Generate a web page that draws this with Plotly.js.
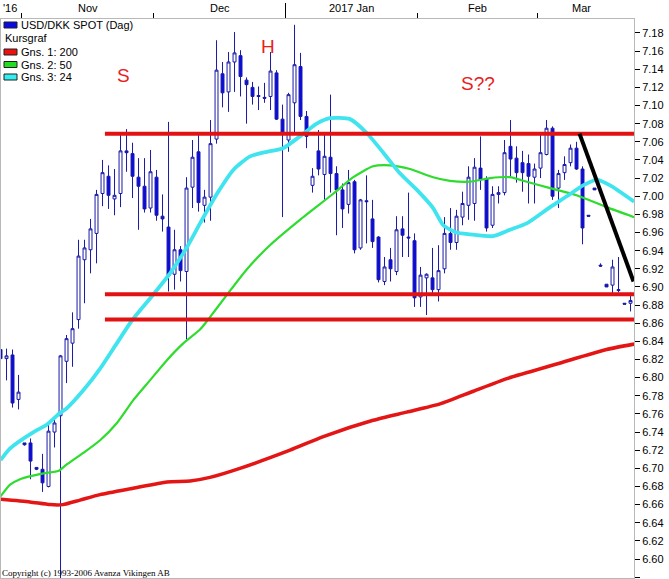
<!DOCTYPE html>
<html>
<head>
<meta charset="utf-8">
<script src="https://cdn.plot.ly/plotly-3.0.1.min.js"></script>
<style>html,body{margin:0;padding:0;background:#fff;}#chart{width:669px;height:579px;}</style>
</head>
<body>
<div id="chart"></div>
<script>
// ---- Data (USD/DKK SPOT, daily) ----
const opens = [6.831,6.821,6.825,6.776,6.728,6.728,6.701,6.699,6.680,6.740,
6.758,6.818,6.838,6.864,6.930,6.941,6.959,7.003,7.022,6.997,
7.003,7.050,7.047,7.021,7.011,6.987,7.021,6.978,6.966,6.914,
6.941,6.917,7.010,7.049,6.990,6.999,7.063,7.135,7.115,7.148,
7.155,7.128,7.120,7.111,7.109,7.110,7.136,7.085,7.062,7.103,
7.143,7.088,7.012,7.050,7.024,7.043,7.025,7.007,6.991,7.016,
6.943,6.995,6.975,6.955,6.906,6.930,6.917,6.964,6.955,6.951,
6.889,6.910,6.910,6.897,6.920,6.959,6.949,6.977,6.990,6.992,
7.031,7.019,6.968,7.002,7.004,7.055,7.042,7.037,7.036,7.021,
7.031,7.046,7.075,7.009,7.026,7.037,7.053,7.030,6.979,7.009,
6.924,6.903,6.902,6.896,6.882,6.882];
const highs = [6.832,6.832,6.831,6.803,6.728,6.733,6.701,6.716,6.748,6.757,
6.825,6.847,6.872,6.952,6.952,6.975,7.007,7.040,7.034,7.030,
7.070,7.074,7.059,7.042,7.042,7.051,7.029,7.002,7.082,6.963,
6.945,7.021,7.062,7.070,7.007,7.084,7.172,7.148,7.159,7.181,
7.161,7.131,7.126,7.121,7.125,7.159,7.139,7.101,7.114,7.189,
7.158,7.094,7.031,7.073,7.068,7.112,7.033,7.014,7.029,7.018,
6.997,7.023,6.996,6.956,6.933,6.943,6.978,6.978,7.004,6.959,
6.922,6.915,6.943,6.946,6.977,6.987,6.985,7.005,7.033,7.042,
7.066,7.022,7.011,7.011,7.062,7.084,7.055,7.050,7.046,7.036,
7.069,7.084,7.077,7.029,7.044,7.057,7.060,7.033,6.979,7.009,
6.926,6.903,6.930,6.933,6.882,6.894];
const lows = [6.819,6.797,6.767,6.765,6.725,6.688,6.698,6.674,6.679,6.723,
6.575,6.794,6.812,6.854,6.882,6.915,6.926,6.989,6.986,6.979,
6.988,7.027,6.998,6.963,6.982,6.982,6.973,6.961,6.895,6.897,
6.906,6.842,6.987,6.983,6.971,6.973,7.058,7.098,7.093,7.115,
7.110,7.080,7.101,7.095,7.103,7.095,7.084,6.977,7.049,7.069,
7.084,7.053,7.004,7.023,6.996,7.004,6.957,6.965,6.981,6.937,
6.941,6.948,6.943,6.905,6.902,6.906,6.913,6.933,6.933,6.878,
6.878,6.869,6.891,6.884,6.915,6.941,6.941,6.968,6.974,6.973,
7.007,6.961,6.965,6.992,7.001,7.022,7.015,7.005,6.992,6.992,
7.020,7.045,6.996,6.987,7.018,7.033,7.029,6.947,6.978,7.007,
6.922,6.900,6.893,6.894,6.881,6.873];
const closes = [6.821,6.824,6.772,6.784,6.726,6.708,6.699,6.684,6.741,6.750,
6.824,6.843,6.854,6.934,6.943,6.964,7.002,7.026,7.001,7.001,
7.050,7.048,7.022,7.011,6.986,7.027,6.979,6.975,6.912,6.941,
6.918,7.009,7.043,6.993,6.999,7.058,7.139,7.114,7.148,7.158,
7.132,7.123,7.110,7.110,7.108,7.138,7.085,7.069,7.112,7.145,
7.088,7.066,7.022,7.030,7.044,7.025,7.007,6.986,7.015,6.941,
6.996,6.994,6.950,6.908,6.922,6.920,6.963,6.957,6.954,6.888,
6.913,6.914,6.897,6.918,6.959,6.949,6.978,6.992,7.021,7.032,
7.018,6.965,7.002,7.004,7.048,7.041,7.026,7.026,7.022,7.030,
7.048,7.075,7.000,7.025,7.035,7.053,7.030,6.965,6.978,7.007,
6.923,6.900,6.922,6.897,6.881,6.885];

// moving averages (trading-day index, value)
const ma200Day = [0,4.9,8.25,10.4,13.25,16.6,22.1,27.75,31.6,34.9,39.9,48.25,53.8,62.1,67.7,73.25,78.8,84.4,92.7,101,105.6];
const ma200Val = [6.666,6.663,6.660,6.660,6.665,6.671,6.678,6.685,6.686,6.690,6.700,6.720,6.735,6.753,6.762,6.771,6.785,6.799,6.815,6.831,6.837];
const ma50Day = [0,1.6,3.25,5.4,7.7,9.6,11,13.8,16.6,19.4,22.1,24.9,27.7,30.5,33.25,34.6,37.7,41,44.9,49.9,55.5,58.8,62.1,64.9,68.25,72.1,74.9,78.25,81.6,84.9,87.7,91.6,96,101,105.6];
const ma50Val = [6.669,6.682,6.688,6.692,6.695,6.697,6.704,6.717,6.731,6.750,6.775,6.797,6.819,6.838,6.853,6.864,6.891,6.919,6.946,6.974,7.003,7.021,7.033,7.034,7.030,7.021,7.017,7.016,7.020,7.021,7.016,7.009,7.001,6.988,6.977];
const ma24Day = [0,1.6,5.5,7.7,9.9,11,13.8,16.6,19.4,21.9,25.5,28.25,31,33.25,36.2,38.8,41.6,44.4,47.1,49.9,52.7,54.9,58.25,61,63.8,66.6,69.4,72.1,73.8,76,78.25,82.1,84.9,87.7,91.6,94.4,97.1,99.4,101.6,105.6];
const ma24Val = [6.709,6.722,6.740,6.748,6.761,6.766,6.786,6.810,6.838,6.863,6.892,6.915,6.943,6.970,7.004,7.029,7.044,7.049,7.053,7.066,7.080,7.086,7.085,7.070,7.048,7.025,7.007,6.987,6.968,6.960,6.958,6.956,6.963,6.970,6.988,7.000,7.012,7.018,7.012,6.994];

// drawn support/resistance levels and trend line
const levelVals = [7.069, 6.892, 6.864];
const levelFrom = 17.4, levelTo = 105.6;
const trendDay = [96.5, 105.5];
const trendVal = [7.069, 6.906];

// top axis: month boundaries and labels
const monthBounds = [3.5, 25.5, 69.5, 89.5];
const yearBound = [47.5];
const monthLabels = ["'16", "Nov", "Dec", "2017 Jan", "Feb", "Mar"];
const monthLabelDay = [0.1, 14.5, 36.5, 58.5, 79.5, 96.9];

const chartMarks = [
  {text: "S", day: 20.5, val: 7.133},
  {text: "H", day: 44.6, val: 7.165},
  {text: "S??", day: 79.6, val: 7.124}
];

const legendItems = [
  {text: "USD/DKK SPOT (Dag)", color: "#0a0ae6", py: 25},
  {text: "Kursgraf", color: null, py: 38.5},
  {text: "Gns. 1: 200", color: "#ee1111", py: 52},
  {text: "Gns. 2: 50", color: "#22dd22", py: 64.5},
  {text: "Gns. 3: 24", color: "#33eeee", py: 77}
];

// ---- build ----
const dayIdx = opens.map((_, i) => i);
const W = 669, H = 579, L = 1, R = 35, T = 19, B = 1;
const plotW = W - L - R, plotH = H - T - B;
const px = x => (x - L) / plotW;
const py = y => (H - B - y) / plotH;

const wick = '#1a1aa6';
const traces = [
  {type: 'candlestick', x: dayIdx, open: opens, high: highs, low: lows, close: closes,
   increasing: {line: {color: wick, width: 1}, fillcolor: '#ffffff'},
   decreasing: {line: {color: wick, width: 1}, fillcolor: '#0a0ae6'},
   whiskerwidth: 0, hoverinfo: 'skip', showlegend: false},
  {type: 'scatter', mode: 'lines', x: ma200Day, y: ma200Val, line: {color: '#e31515', width: 3.5, shape: 'spline', smoothing: 0.6}, hoverinfo: 'skip', showlegend: false},
  {type: 'scatter', mode: 'lines', x: ma50Day, y: ma50Val, line: {color: '#2edc2e', width: 2.2, shape: 'spline', smoothing: 0.6}, hoverinfo: 'skip', showlegend: false},
  {type: 'scatter', mode: 'lines', x: ma24Day, y: ma24Val, line: {color: '#3fe4ee', width: 3.8, shape: 'spline', smoothing: 0.6}, hoverinfo: 'skip', showlegend: false}
];
levelVals.forEach(v => traces.push({type: 'scatter', mode: 'lines', x: [levelFrom, levelTo], y: [v, v],
  line: {color: '#e31212', width: 4}, hoverinfo: 'skip', showlegend: false}));
traces.push({type: 'scatter', mode: 'lines', x: trendDay, y: trendVal, line: {color: '#000000', width: 4}, hoverinfo: 'skip', showlegend: false});

const annotations = [];
monthLabels.forEach((t, i) => annotations.push({text: t, x: monthLabelDay[i], xref: 'x', y: py(7.5), yref: 'paper',
  xanchor: i === 0 ? 'left' : 'center', yanchor: 'middle', showarrow: false,
  font: {family: 'Liberation Sans, Arial, sans-serif', size: 11, color: '#000'}}));
chartMarks.forEach(m => annotations.push({text: m.text, x: m.day, y: m.val, xref: 'x', yref: 'y', showarrow: false,
  font: {family: 'Liberation Sans, Arial, sans-serif', size: 19, color: '#e8201c'}}));
legendItems.forEach(it => annotations.push({text: it.text, x: px(it.color ? 19 : 3), y: py(it.py), xref: 'paper', yref: 'paper',
  xanchor: 'left', yanchor: 'middle', showarrow: false,
  font: {family: 'Liberation Sans, Arial, sans-serif', size: 11, color: '#000'}}));
annotations.push({text: 'Copyright (c) 1993-2006 Avanza Vikingen AB', x: px(0), y: py(572.5), xref: 'paper', yref: 'paper',
  xanchor: 'left', yanchor: 'middle', showarrow: false,
  font: {family: 'Liberation Serif, Times New Roman, serif', size: 9, color: '#000'}});

const shapes = [];
legendItems.forEach(it => { if (it.color) shapes.push({type: 'rect', xref: 'paper', yref: 'paper',
  x0: px(4), x1: px(17), y0: py(it.py + 3), y1: py(it.py - 3),
  fillcolor: it.color, line: {color: '#202020', width: 1}}); });

const axisFont = {family: 'Liberation Sans, Arial, sans-serif', size: 11, color: '#000'};
const layout = {
  width: W, height: H,
  margin: {l: L, r: R, t: T, b: B, pad: 0},
  paper_bgcolor: '#ffffff', plot_bgcolor: '#ffffff',
  showlegend: false,
  xaxis: {range: [0.08, 105.58], side: 'top', showgrid: false, zeroline: false,
    showline: true, mirror: true, linecolor: '#b8b8b8', linewidth: 1,
    tickmode: 'array', tickvals: monthBounds, ticks: 'outside', ticklen: 5, tickcolor: '#000',
    showticklabels: false, rangeslider: {visible: false}, fixedrange: true},
  xaxis2: {range: [0.08, 105.58], overlaying: 'x', side: 'top', showgrid: false, zeroline: false,
    showline: false, tickmode: 'array', tickvals: yearBound, ticks: 'outside', ticklen: 15, tickcolor: '#000',
    showticklabels: false, fixedrange: true},
  yaxis: {range: [6.5791, 7.1954], side: 'right', showgrid: false, zeroline: false,
    showline: true, mirror: true, linecolor: '#b8b8b8', linewidth: 1,
    tick0: 6.6, dtick: 0.02, tickformat: '.2f', ticks: 'outside', ticklen: 5, tickcolor: '#000',
    tickfont: axisFont, fixedrange: true},
  annotations: annotations,
  shapes: shapes
};
traces.push({type: 'scatter', mode: 'lines', x: [0.08], y: [6.6], xaxis: 'x2', yaxis: 'y', hoverinfo: 'skip', showlegend: false, line: {width: 0}});

Plotly.newPlot('chart', traces, layout, {staticPlot: true, displayModeBar: false});
</script>
</body>
</html>
